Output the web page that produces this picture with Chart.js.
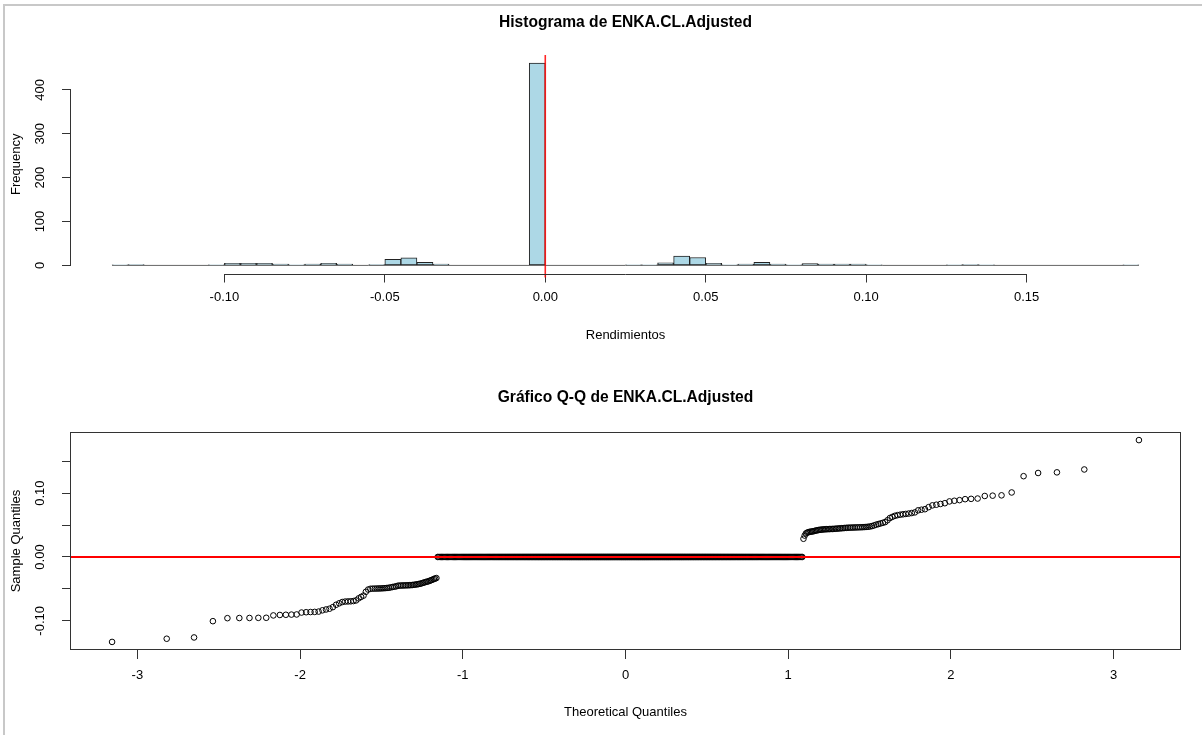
<!DOCTYPE html>
<html><head><meta charset="utf-8">
<script src="https://cdn.jsdelivr.net/npm/chart.js@4.4.1/dist/chart.umd.min.js"></script>
<style>
html,body{margin:0;padding:0;background:#fff;}
body{width:1202px;height:735px;position:relative;overflow:hidden;}
#frame{position:absolute;left:3px;top:4px;right:0;bottom:0;border-left:2px solid #c8c8c8;border-top:2px solid #c8c8c8;}
#histWrap{position:absolute;left:0;top:0;width:1202px;height:377px;}
#qqWrap{position:absolute;left:0;top:377px;width:1202px;height:358px;}
canvas{display:block;}
</style></head>
<body>
<div id="frame"></div>
<div id="histWrap"><canvas id="hist" width="1202" height="377"></canvas></div>
<div id="qqWrap"><canvas id="qq" width="1202" height="358"></canvas></div>
<script>
// ---------- DATA ----------
const histTitle = 'Histograma de ENKA.CL.Adjusted';
const histXLabel = 'Rendimientos';
const histYLabel = 'Frequency';
const histBreakStart = -0.135;
const histBreakWidth = 0.005;
const histCounts = [1,2,0,0,0,0, 1,5,5,5,3, 1,3,5,3,0, 2,14,17,7,3, 0,0,0,0,0, 461,
  0,0,0,0,0, 1,1,6,21,18, 5,1,3,7,3, 1,4,3,3,3, 1,0,0,0,0, 1,2,1, 0,0,0,0,0,0,0,0, 1];
const histXTicks = [-0.10,-0.05,0.00,0.05,0.10,0.15];
const histYTicks = [0,100,200,300,400];
const histRefX = 0;

const qqTitle = 'Gráfico Q-Q de ENKA.CL.Adjusted';
const qqXLabel = 'Theoretical Quantiles';
const qqYLabel = 'Sample Quantiles';
const negTail = [-0.1330,-0.1280,-0.1260,
 -0.1005,
 -0.0958,-0.0956,-0.0955,-0.0953,-0.0952,
 -0.0915,-0.0908,-0.0905,-0.0902,-0.0900,
 -0.0870,-0.0865,-0.0862,-0.0860,-0.0855,
 -0.0835,-0.0822,-0.0810,
 -0.0785,
 -0.0748,-0.0725,-0.0705,
 -0.0698,-0.0696,-0.0694,-0.0690,-0.0680,
 -0.0648,-0.0625,-0.0605,
 -0.0545,-0.0510,
 -0.0498,-0.0496,-0.0495,-0.0494,-0.0493,-0.0492,-0.0490,-0.0488,-0.0485,-0.0482,-0.0476,-0.0470,-0.0465,-0.0460,
 -0.0450,-0.0448,-0.0447,-0.0446,-0.0445,-0.0444,-0.0443,-0.0442,-0.0440,-0.0438,-0.0435,-0.0432,-0.0428,-0.0424,-0.0419,-0.0413,-0.0406,
 -0.0398,-0.0392,-0.0386,-0.0380,-0.0372,-0.0363,-0.0355,
 -0.0345,-0.0338,-0.0330];
const zeroCount = 461;
const posTail = [0.0285,
 0.0335,
 0.0368,0.0380,0.0388,0.0393,0.0396,0.0399,
 0.0403,0.0408,0.0413,0.0418,0.0422,0.0425,0.0428,0.0430,0.0432,0.0434,0.0435,0.0436,0.0437,0.0438,0.0439,0.0440,0.0442,0.0444,0.0446,0.0448,0.0450,
 0.0452,0.0454,0.0456,0.0458,0.0459,0.0460,0.0461,0.0462,0.0463,0.0464,0.0465,0.0466,0.0468,0.0470,0.0473,0.0477,0.0484,0.0494,
 0.0506,0.0515,0.0525,0.0535,0.0546,
 0.0575,
 0.0610,0.0628,0.0645,
 0.0655,0.0662,0.0668,0.0674,0.0680,0.0688,0.0698,
 0.0730,0.0740,0.0748,
 0.0780,
 0.0808,0.0818,0.0830,0.0842,
 0.0870,0.0880,0.0890,
 0.0905,0.0910,0.0915,
 0.0955,0.0960,0.0965,
 0.1010,
 0.1265,
 0.1315,0.1325,
 0.1370,
 0.1830];
const qqXTicks = [-3,-2,-1,0,1,2,3];
const qqYTicks = [-0.10,-0.05,0.00,0.05,0.10,0.15];
const qqYTickLabels = ['-0.10','','0.00','','0.10',''];
const qqRefY = 0;

// ---------- HELPERS ----------
function qnorm(p){
  const a=[-3.969683028665376e+01,2.209460984245205e+02,-2.759285104469687e+02,1.383577518672690e+02,-3.066479806614716e+01,2.506628277459239e+00];
  const b=[-5.447609879822406e+01,1.615858368580409e+02,-1.556989798598866e+02,6.680131188771972e+01,-1.328068155288572e+01];
  const c=[-7.784894002430293e-03,-3.223964580411365e-01,-2.400758277161838e+00,-2.549732539343734e+00,4.374664141464968e+00,2.938163982698783e+00];
  const d=[7.784695709041462e-03,3.224671290700398e-01,2.445134137142996e+00,3.754408661907416e+00];
  const pl=0.02425, ph=1-pl; let q,r;
  if(p<pl){q=Math.sqrt(-2*Math.log(p));return (((((c[0]*q+c[1])*q+c[2])*q+c[3])*q+c[4])*q+c[5])/((((d[0]*q+d[1])*q+d[2])*q+d[3])*q+1);}
  if(p<=ph){q=p-0.5;r=q*q;return (((((a[0]*r+a[1])*r+a[2])*r+a[3])*r+a[4])*r+a[5])*q/(((((b[0]*r+b[1])*r+b[2])*r+b[3])*r+b[4])*r+1);}
  q=Math.sqrt(-2*Math.log(1-p));return -(((((c[0]*q+c[1])*q+c[2])*q+c[3])*q+c[4])*q+c[5])/((((d[0]*q+d[1])*q+d[2])*q+d[3])*q+1);
}
function ext(lo,hi){const r=hi-lo;return [lo-0.04*r, hi+0.04*r];}

// histogram data built from the bins
const histData = histCounts.map((c,i)=>({x: histBreakStart + (i+0.5)*histBreakWidth, y: c}));
const histBreakEnd = histBreakStart + histCounts.length*histBreakWidth;
const histBase = [{x: histBreakStart, y: 0}, {x: histBreakEnd, y: 0}];
const hX = ext(histBreakStart, histBreakEnd);
const hY = ext(0, Math.max(...histCounts));

// QQ data: sorted sample vs normal quantiles of ppoints(n)
const sample = negTail.concat(new Array(zeroCount).fill(0), posTail);
const n = sample.length;
const qqData = sample.map((v,i)=>({x: qnorm((i+0.5)/n), y: v}));
const qX = ext(qqData[0].x, qqData[n-1].x);
const qY = ext(Math.min(...sample), Math.max(...sample));

const FONT = "'Liberation Sans', Arial, Helvetica, sans-serif";
const LBL = 13, TTL = 15.6, TL = 9;
Chart.defaults.font.family = FONT;
Chart.defaults.font.size = LBL;
Chart.defaults.color = '#000';

const AX = '#333';
const rPlugin = {
  id: 'rStyle',
  afterDatasetsDraw(chart, args, o) {
    const ctx = chart.ctx, a = chart.chartArea, xs = chart.scales.x, ys = chart.scales.y;
    ctx.save();
    if (o.refX !== undefined) {
      const px = xs.getPixelForValue(o.refX);
      ctx.strokeStyle = 'rgba(255,0,0,0.85)'; ctx.lineWidth = 1.6;
      ctx.beginPath(); ctx.moveTo(px, a.top); ctx.lineTo(px, a.bottom + 4); ctx.stroke();
    }
    if (o.refY !== undefined) {
      const py = ys.getPixelForValue(o.refY);
      ctx.strokeStyle = '#ff0000'; ctx.lineWidth = 2;
      ctx.beginPath(); ctx.moveTo(a.left, py); ctx.lineTo(a.right, py); ctx.stroke();
    }
    ctx.strokeStyle = AX; ctx.lineWidth = 1;
    if (o.axisLines) {
      const yb = Math.round(a.bottom) + 0.5, xl = Math.round(a.left) - 0.5;
      ctx.beginPath();
      ctx.moveTo(xs.getPixelForValue(o.xTicks[0]), yb);
      ctx.lineTo(xs.getPixelForValue(o.xTicks[o.xTicks.length-1]), yb);
      ctx.moveTo(xl, ys.getPixelForValue(o.yTicks[0]));
      ctx.lineTo(xl, ys.getPixelForValue(o.yTicks[o.yTicks.length-1]));
      ctx.stroke();
    }
    if (o.box) {
      ctx.strokeRect(Math.round(a.left)-0.5, Math.round(a.top)+0.5, Math.round(a.right)-Math.round(a.left)+1, Math.round(a.bottom)-Math.round(a.top)-1);
    }
    ctx.restore();
  }
};

function xScale(min, max, ticks, fmt, title, height, pad, titleBottom) {
  return {
    type: 'linear', min, max, offset: false,
    afterBuildTicks: s => { s.ticks = ticks.map(v => ({value: v})); },
    afterFit: s => { s.height = height; },
    grid: {drawOnChartArea: false, drawTicks: true, tickLength: TL, color: AX, offset: false},
    border: {display: false},
    ticks: {callback: fmt, padding: pad, maxRotation: 0, minRotation: 0, autoSkip: false, font: {size: LBL}, color: '#000'},
    title: {display: true, text: title, font: {size: LBL}, color: '#000', padding: {top: 0, bottom: titleBottom}}
  };
}
function yScale(min, max, ticks, fmt, title, pad) {
  return {
    type: 'linear', min, max,
    afterBuildTicks: s => { s.ticks = ticks.map(v => ({value: v})); },
    afterFit: s => { s.width = 71; },
    grid: {drawOnChartArea: false, drawTicks: true, tickLength: TL, color: AX},
    border: {display: false},
    ticks: {callback: fmt, padding: pad, minRotation: 90, maxRotation: 90, crossAlign: 'center', autoSkip: false, font: {size: LBL}, color: '#000'},
    title: {display: true, text: title, font: {size: LBL}, color: '#000', padding: {top: 8.9, bottom: 0}}
  };
}

// ---------- HISTOGRAM ----------
new Chart(document.getElementById('hist'), {
  type: 'bar',
  data: {
    datasets: [
      {type: 'bar', data: histData, backgroundColor: '#ADD8E6', borderColor: '#222', borderWidth: 1, borderSkipped: false,
       barPercentage: 1, categoryPercentage: 1, order: 0},
      {type: 'line', data: histBase, borderColor: '#666', borderWidth: 1, pointRadius: 0, order: 1}
    ]
  },
  options: {
    responsive: false, animation: false, events: [],
    layout: {padding: {left: 0, right: 22, top: 0, bottom: 0}},
    plugins: {
      legend: {display: false}, tooltip: {enabled: false},
      title: {display: true, text: histTitle, fullSize: false, color: '#000', font: {size: TTL, weight: 'bold'}, padding: {top: 13.1, bottom: 23.2}},
      rStyle: {refX: histRefX, axisLines: true, xTicks: histXTicks, yTicks: histYTicks}
    },
    scales: {
      x: xScale(hX[0], hX[1], histXTicks, v => v.toFixed(2), histXLabel, 377 - 273.5, 6.7, 34.2),
      y: yScale(hY[0], hY[1], histYTicks, v => String(v), histYLabel, 11.2)
    }
  },
  plugins: [rPlugin]
});

// ---------- QQ PLOT ----------
new Chart(document.getElementById('qq'), {
  type: 'scatter',
  data: {
    datasets: [
      {data: qqData, pointStyle: 'circle', pointRadius: 2.8, pointBorderWidth: 1, pointBorderColor: '#000', pointBackgroundColor: 'rgba(0,0,0,0)', showLine: false}
    ]
  },
  options: {
    responsive: false, animation: false, events: [],
    layout: {padding: {left: 0, right: 22, top: 0, bottom: 0}},
    plugins: {
      legend: {display: false}, tooltip: {enabled: false},
      title: {display: true, text: qqTitle, fullSize: false, color: '#000', font: {size: TTL, weight: 'bold'}, padding: {top: 11.6, bottom: 24.7}},
      rStyle: {refY: qqRefY, box: true}
    },
    scales: {
      x: xScale(qX[0], qX[1], qqXTicks, v => String(v), qqXLabel, 358 - 273, 8.5, 15.2),
      y: yScale(qY[0], qY[1], qqYTicks, (v, i) => qqYTickLabels[i], qqYLabel, 7.2)
    }
  },
  plugins: [rPlugin]
});
</script>
</body></html>
